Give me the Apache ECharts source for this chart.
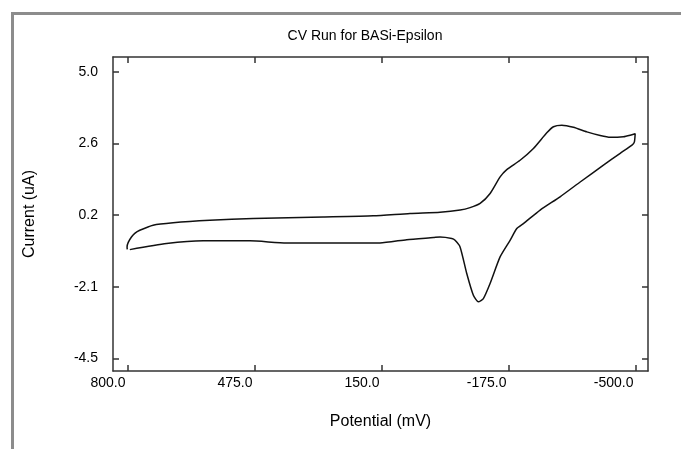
<!DOCTYPE html>
<html>
<head>
<meta charset="utf-8">
<script src="https://cdn.jsdelivr.net/npm/echarts@6/dist/echarts.min.js"></script>
<style>
html,body{margin:0;padding:0;background:#fff;}
#chart{width:681px;height:449px;}
</style>
</head>
<body>
<div id="chart"></div>
<script>
// Data (potential in mV, current in uA), traced as one closed loop
var potential = [800.5, 801, 798, 789.8, 781.3, 768.5, 734.4, 683.2, 589.2, 478.3, 299, 171, 77, 0.2, -51.3, -76.7, -102.4, -128, -153.6, -170.6, -204.7, -238.8, -273, -290, -311.5, -341.2, -375.5, -409.6, -435.2, -469.3, -486.4, -499.2, -499, -497, -491, -460.8, -418, -358.4, -307, -256, -213.2, -196.3, -179.1, -153.5, -127.9, -110.7, -97.9, -85.1, -68.2, -51.1, -38.3, -29.8, 0, 17.1, 85.5, 153.8, 393, 486.8, 606.4, 700, 794];
var current = [-0.88, -0.80, -0.65, -0.47, -0.35, -0.25, -0.08, 0.0, 0.08, 0.14, 0.19, 0.23, 0.31, 0.35, 0.42, 0.50, 0.64, 0.97, 1.52, 1.76, 2.07, 2.46, 2.98, 3.18, 3.23, 3.16, 3.01, 2.89, 2.83, 2.85, 2.90, 2.95, 2.93, 2.67, 2.57, 2.30, 1.91, 1.35, 0.86, 0.42, -0.03, -0.19, -0.58, -1.13, -2.01, -2.51, -2.62, -2.40, -1.68, -0.80, -0.58, -0.52, -0.47, -0.49, -0.56, -0.67, -0.67, -0.60, -0.60, -0.69, -0.89];

var xTickValues = [800, 475, 150, -175, -500];
var xTickLabels = ['800.0', '475.0', '150.0', '-175.0', '-500.0'];
var yTickValues = [5.0, 2.625, 0.25, -2.125, -4.5];
var yTickLabels = ['5.0', '2.6', '0.2', '-2.1', '-4.5'];

var titleText = 'CV Run for BASi-Epsilon';
var xName = 'Potential (mV)';
var yName = 'Current (uA)';

var FONT = '"Liberation Sans", Arial, sans-serif';
var FS = 14;
var FS_NAME = 16;
var axisColor = '#333';

function labelFor(values, labels) {
  return function (v) {
    for (var i = 0; i < values.length; i++) {
      if (Math.abs(values[i] - v) < 1e-6) return labels[i];
    }
    return '';
  };
}

var chart = echarts.init(document.getElementById('chart'), null, {renderer: 'canvas'});
var seriesData = potential.map(function (p, i) { return [p, current[i]]; });

var xMin = -532, xMax = 837, yMin = -4.91, yMax = 5.49;

chart.setOption({
  animation: false,
  backgroundColor: '#fff',
  title: {
    text: titleText,
    left: 360,
    textAlign: 'center',
    top: 24,
    textStyle: {fontFamily: FONT, fontSize: FS, fontWeight: 'normal', color: '#000'}
  },
  graphic: [
    {type: 'line', shape: {x1: 11, y1: 13.5, x2: 681, y2: 13.5}, style: {stroke: '#8c8c8c', lineWidth: 3}},
    {type: 'line', shape: {x1: 12.5, y1: 12, x2: 12.5, y2: 449}, style: {stroke: '#8c8c8c', lineWidth: 3}}
  ],
  grid: {left: 113, right: 33, top: 57, bottom: 78, containLabel: false},
  xAxis: [
    {
      type: 'value', inverse: true, min: xMin, max: xMax, position: 'bottom',
      name: xName, nameLocation: 'middle', nameGap: 43,
      nameTextStyle: {fontFamily: FONT, fontSize: FS_NAME, color: '#000'},
      axisLine: {show: true, onZero: false, lineStyle: {color: axisColor, width: 1.5}},
      axisTick: {show: true, inside: true, length: 6, customValues: xTickValues, lineStyle: {color: axisColor, width: 1.5}},
      axisLabel: {show: true, customValues: xTickValues, formatter: labelFor(xTickValues, xTickLabels), margin: 5,
        align: 'right', padding: [0, 2, 0, 0],
        fontFamily: FONT, fontSize: FS, color: '#000'},
      splitLine: {show: false}
    },
    {
      type: 'value', inverse: true, min: xMin, max: xMax, position: 'top',
      axisLine: {show: true, onZero: false, lineStyle: {color: axisColor, width: 1.5}},
      axisTick: {show: true, inside: true, length: 6, customValues: xTickValues, lineStyle: {color: axisColor, width: 1.5}},
      axisLabel: {show: false},
      splitLine: {show: false}
    }
  ],
  yAxis: [
    {
      type: 'value', min: yMin, max: yMax, position: 'left',
      name: yName, nameLocation: 'middle', nameGap: 75, nameRotate: 90,
      nameTextStyle: {fontFamily: FONT, fontSize: FS_NAME, color: '#000'},
      axisLine: {show: true, onZero: false, lineStyle: {color: axisColor, width: 1.5}},
      axisTick: {show: true, inside: true, length: 6, customValues: yTickValues, lineStyle: {color: axisColor, width: 1.5}},
      axisLabel: {show: true, customValues: yTickValues, formatter: labelFor(yTickValues, yTickLabels), margin: 15,
        fontFamily: FONT, fontSize: FS, color: '#000'},
      splitLine: {show: false}
    },
    {
      type: 'value', min: yMin, max: yMax, position: 'right',
      axisLine: {show: true, onZero: false, lineStyle: {color: axisColor, width: 1.5}},
      axisTick: {show: true, inside: true, length: 6, customValues: yTickValues, lineStyle: {color: axisColor, width: 1.5}},
      axisLabel: {show: false},
      splitLine: {show: false}
    }
  ],
  series: [{
    type: 'line',
    xAxisIndex: 0, yAxisIndex: 0,
    data: seriesData,
    showSymbol: false,
    smooth: 0.2,
    lineStyle: {color: '#111', width: 1.5},
    silent: true
  }]
});
</script>
</body>
</html>
